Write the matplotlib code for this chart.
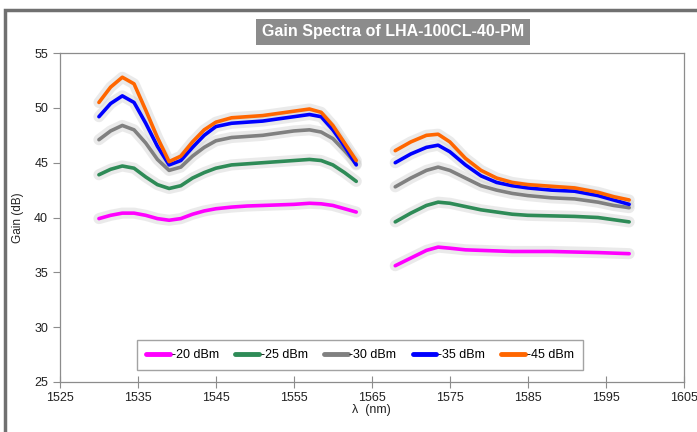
import numpy as np
import matplotlib.pyplot as plt
from matplotlib.patches import Rectangle

plt.rcParams['font.family'] = ['Liberation Sans', 'DejaVu Sans']

# wavelengths (nm) of the two measured bands
wl1 = [1530, 1531.5, 1533, 1534.5, 1536, 1537.5, 1539, 1540.5, 1542, 1543.5, 1545,
       1547, 1549, 1551, 1553, 1555, 1557, 1558.5, 1560, 1561.5, 1563]
wl2 = [1568, 1570, 1572, 1573.5, 1575, 1577, 1579, 1581, 1583, 1585, 1588, 1591,
       1594, 1596, 1598]

labels = ['-20 dBm', '-25 dBm', '-30 dBm', '-35 dBm', '-45 dBm']
colors = ['#ff00ff', '#2e8b57', '#808080', '#0000ff', '#ff6600']

g20_1 = [39.9, 40.2, 40.4, 40.4, 40.2, 39.9, 39.75, 39.9, 40.3, 40.6, 40.8, 40.95,
         41.05, 41.1, 41.15, 41.2, 41.3, 41.25, 41.1, 40.8, 40.5]
g25_1 = [43.9, 44.4, 44.7, 44.5, 43.7, 43.0, 42.65, 42.9, 43.6, 44.1, 44.5, 44.8,
         44.9, 45.0, 45.1, 45.2, 45.3, 45.2, 44.8, 44.1, 43.3]
g30_1 = [47.1, 47.9, 48.4, 48.0, 46.8, 45.3, 44.3, 44.6, 45.6, 46.4, 47.0, 47.3,
         47.4, 47.5, 47.7, 47.9, 48.0, 47.8, 47.2, 46.1, 44.9]
g35_1 = [49.2, 50.4, 51.1, 50.5, 48.6, 46.5, 44.8, 45.2, 46.4, 47.5, 48.3, 48.6,
         48.7, 48.8, 49.0, 49.2, 49.4, 49.2, 48.0, 46.5, 44.8]
g45_1 = [50.5, 51.9, 52.8, 52.2, 49.8, 47.3, 45.1, 45.6, 46.9, 48.0, 48.7, 49.1,
         49.2, 49.3, 49.5, 49.7, 49.9, 49.6, 48.4, 46.8, 45.2]

g20_2 = [35.6, 36.3, 37.0, 37.3, 37.2, 37.05, 37.0, 36.95, 36.9, 36.9, 36.9, 36.85,
         36.8, 36.75, 36.7]
g25_2 = [39.6, 40.4, 41.1, 41.4, 41.3, 41.0, 40.7, 40.5, 40.3, 40.2, 40.15, 40.1,
         40.0, 39.8, 39.6]
g30_2 = [42.8, 43.6, 44.3, 44.6, 44.3, 43.6, 42.9, 42.5, 42.2, 42.0, 41.8, 41.7,
         41.4, 41.1, 40.9]
g35_2 = [45.0, 45.8, 46.4, 46.6, 46.0, 44.8, 43.8, 43.2, 42.9, 42.7, 42.5, 42.4,
         42.0, 41.6, 41.2]
g45_2 = [46.1, 46.9, 47.5, 47.6, 46.9, 45.4, 44.3, 43.6, 43.2, 43.0, 42.85, 42.7,
         42.3, 41.9, 41.6]

band1 = [g20_1, g25_1, g30_1, g35_1, g45_1]
band2 = [g20_2, g25_2, g30_2, g35_2, g45_2]

fig = plt.figure(figsize=(6.97, 4.32), dpi=100)
ax = fig.add_axes([0.086, 0.116, 0.895, 0.761])

# outer frame of the picture
fig.patches.append(Rectangle((0.007, -0.1), 1.2, 1.078, transform=fig.transFigure,
                             fill=False, edgecolor='#707070', lw=2.5))

# soft grey glow under the curves
for ys1, ys2 in zip(band1, band2):
    for xs, ys in ((wl1, ys1), (wl2, ys2)):
        ax.plot(xs, ys, color='#cccccc', lw=8, alpha=0.4,
                solid_capstyle='round', solid_joinstyle='round', zorder=1)

for ys1, ys2, c, lab in zip(band1, band2, colors, labels):
    ax.plot(wl1, ys1, color=c, lw=2.6, solid_capstyle='round',
            solid_joinstyle='round', zorder=3, label=lab)
    ax.plot(wl2, ys2, color=c, lw=2.6, solid_capstyle='round',
            solid_joinstyle='round', zorder=3)

ax.set_xlim(1525, 1605)
ax.set_ylim(25, 55)
ax.set_xticks(np.arange(1525, 1606, 10))
ax.set_yticks(np.arange(25, 56, 5))
for s in ax.spines.values():
    s.set_color('#8c8c8c')
    s.set_linewidth(0.9)
ax.tick_params(axis='both', colors='#8c8c8c', labelcolor='#222222', labelsize=9,
               length=5, width=0.8)
ax.tick_params(axis='x', direction='inout', length=8)

ax.set_xlabel('λ  (nm)', fontsize=9, color='#222222', labelpad=0)
ax.set_ylabel('Gain (dB)', fontsize=8.5, color='#222222', labelpad=7)

leg = ax.legend(loc='center', bbox_to_anchor=(0.481, 0.082), ncol=5, fontsize=9,
                frameon=True, fancybox=False, edgecolor='#8c8c8c',
                handlelength=1.9, handletextpad=0.15, columnspacing=1.3,
                borderpad=0.7)
leg.get_frame().set_linewidth(1.0)
for h in leg.get_lines():
    h.set_linewidth(3.5)

fig.text(0.564, 0.926, 'Gain Spectra of LHA-100CL-40-PM', ha='center', va='center',
         fontsize=11.5, fontweight='bold', color='white',
         bbox=dict(boxstyle='square,pad=0.35', facecolor='#8c8c8c', edgecolor='none'))

fig.savefig('out.png', dpi=100)
